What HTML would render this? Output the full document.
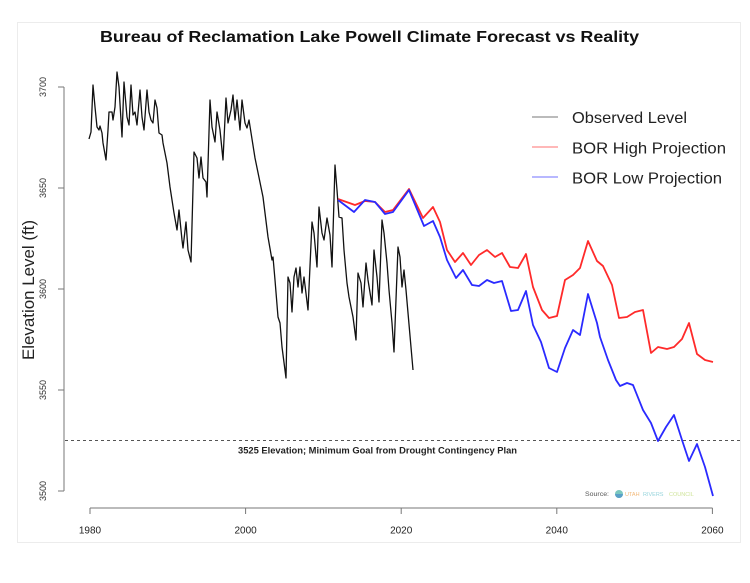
<!DOCTYPE html>
<html>
<head>
<meta charset="utf-8">
<style>
html,body{margin:0;padding:0;background:#fff;}
svg{display:block;}
text{font-family:"Liberation Sans",Arial,Helvetica,sans-serif;}
</style>
</head>
<body>
<svg width="750" height="583" viewBox="0 0 750 583" xmlns="http://www.w3.org/2000/svg">
  <rect x="0" y="0" width="750" height="583" fill="#fff"/>
  <rect x="17.5" y="22.5" width="723" height="520" fill="none" stroke="#ececec" stroke-width="1"/>

  <!-- Title -->
  <text x="100" y="42" font-size="15.5" font-weight="bold" fill="#111" textLength="539" lengthAdjust="spacingAndGlyphs">Bureau of Reclamation Lake Powell Climate Forecast vs Reality</text>

  <!-- Y axis -->
  <g stroke="#777" stroke-width="1" fill="none">
    <line x1="64" y1="87" x2="64" y2="491"/>
    <line x1="58" y1="87" x2="64" y2="87"/>
    <line x1="58" y1="188" x2="64" y2="188"/>
    <line x1="58" y1="289" x2="64" y2="289"/>
    <line x1="58" y1="390" x2="64" y2="390"/>
    <line x1="58" y1="491" x2="64" y2="491"/>
  </g>
  <g font-size="9" fill="#333" text-anchor="middle">
    <text transform="translate(46,87) rotate(-90)">3700</text>
    <text transform="translate(46,188) rotate(-90)">3650</text>
    <text transform="translate(46,289) rotate(-90)">3600</text>
    <text transform="translate(46,390) rotate(-90)">3550</text>
    <text transform="translate(46,491) rotate(-90)">3500</text>
  </g>
  <text transform="translate(34,290) rotate(-90)" font-size="16.5" fill="#222" text-anchor="middle" textLength="140" lengthAdjust="spacingAndGlyphs">Elevation Level (ft)</text>

  <!-- X axis -->
  <g stroke="#777" stroke-width="1" fill="none">
    <line x1="90" y1="508" x2="712.5" y2="508"/>
    <line x1="90" y1="508" x2="90" y2="514"/>
    <line x1="245.6" y1="508" x2="245.6" y2="514"/>
    <line x1="401.2" y1="508" x2="401.2" y2="514"/>
    <line x1="556.8" y1="508" x2="556.8" y2="514"/>
    <line x1="712.4" y1="508" x2="712.4" y2="514"/>
  </g>
  <g font-size="10" fill="#222" text-anchor="middle">
    <text x="90" y="533.5">1980</text>
    <text x="245.6" y="533.5">2000</text>
    <text x="401.2" y="533.5">2020</text>
    <text x="556.8" y="533.5">2040</text>
    <text x="712.4" y="533.5">2060</text>
  </g>

  <!-- Dashed 3525 line -->
  <line x1="65" y1="440.5" x2="740" y2="440.5" stroke="#555" stroke-width="1" stroke-dasharray="3,3"/>
  <text x="238" y="453.5" font-size="9" font-weight="bold" fill="#222" textLength="279" lengthAdjust="spacingAndGlyphs">3525 Elevation; Minimum Goal from Drought Contingency Plan</text>

  <!-- Observed -->
  <polyline fill="none" stroke="#111" stroke-width="1.3" stroke-linejoin="round"
    points="89,139 91,132 93,85 95,107 97,127 99,130 100,126 102,133 103,143 106,160 108,130 109,112 112,112 113,120 115,107 117,72 119,87 122,137 124,82 127,117 129,125 131,85 133,115 135,112 137,125 140,90 142,117 144,130 147,90 149,112 151,120 153,123 155,100 157,108 159,133 162,135 163,143 167,163 170,187 172,200 174,213 177,230 179,210 182,240 183,248 186,222 188,250 191,262 194,152 197,158 199,178 201,157 203,178 206,182 207,197 210,100 212,127 215,142 217,112 220,130 223,160 226,98 228,123 231,110 233,95 235,120 237,100 240,130 242,100 245,123 247,128 249,120 255,158 263,197 268,237 272,260 273,257 275,280 278,317 280,323 282,347 286,378 288,277 290,283 292,312 294,277 296,268 298,287 300,267 302,293 304,277 308,310 312,222 314,233 317,267 319,207 322,233 324,240 327,218 330,235 332,267 335,165 337,190 339,217 342,218 344,250 347,283 349,297 351,307 353,317 356,340 358,273 361,283 363,307 366,263 368,280 372,305 374,250 377,277 379,302 382,220 384,233 387,263 389,290 392,323 394,352 398,247 400,257 402,287 404,270 406,290 413,370"/>

  <!-- High projection -->
  <polyline fill="none" stroke="#ff2a2a" stroke-width="1.8" stroke-linejoin="round"
    points="338,199 355,205 365,201 375,202 385,212 393,210 409,189 423,218 433,207 440,222 447,250 455,262 463,253 471,265 479,255 487,250 495,257 502,253 510,267 518,268 526,254 533,287 542,310 549,318 557,316 565,280 573,275 580,268 588,241 597,261 603,266 612,285 619,318 627,317 635,312 643,310 651,353 658,347 667,349 674,347 682,339 689,323 697,354 705,360 713,362"/>

  <!-- Low projection -->
  <polyline fill="none" stroke="#2a2aff" stroke-width="1.8" stroke-linejoin="round"
    points="338,200 354,212 365,200 375,202 385,214 393,212 409,190 424,226 433,221 440,237 447,260 456,278 463,270 472,285 479,286 487,280 494,283 502,281 511,311 518,310 526,291 533,325 541,342 549,368 557,372 565,348 573,330 580,335 588,294 597,323 600,337 608,360 616,380 620,386 627,383 633,385 643,410 651,423 658,441 666,427 674,415 682,440 689,461 697,444 705,467 713,496"/>

  <!-- Legend -->
  <g stroke-width="1">
    <line x1="532" y1="117" x2="558" y2="117" stroke="#777"/>
    <line x1="532" y1="147" x2="558" y2="147" stroke="#ff7070"/>
    <line x1="532" y1="177" x2="558" y2="177" stroke="#7070ff"/>
  </g>
  <g font-size="16" fill="#222">
    <text x="572" y="123" textLength="115" lengthAdjust="spacingAndGlyphs">Observed Level</text>
    <text x="572" y="153.5" textLength="154" lengthAdjust="spacingAndGlyphs">BOR High Projection</text>
    <text x="572" y="183.5" textLength="150" lengthAdjust="spacingAndGlyphs">BOR Low Projection</text>
  </g>

  <!-- Source -->
  <text x="585" y="496" font-size="6.5" fill="#555" textLength="24" lengthAdjust="spacingAndGlyphs">Source:</text>
  <circle cx="619" cy="494" r="4" fill="#7cc8c0"/>
  <path d="M615,494 a4,4 0 0,0 8,0 z" fill="#5aa0c8"/>
  <g font-size="5.5">
    <text x="625" y="496" fill="#f2b878">UTAH</text>
    <text x="643" y="496" fill="#96d4dc">RIVERS</text>
    <text x="669" y="496" fill="#cfe49a">COUNCIL</text>
  </g>
</svg>
</body>
</html>
